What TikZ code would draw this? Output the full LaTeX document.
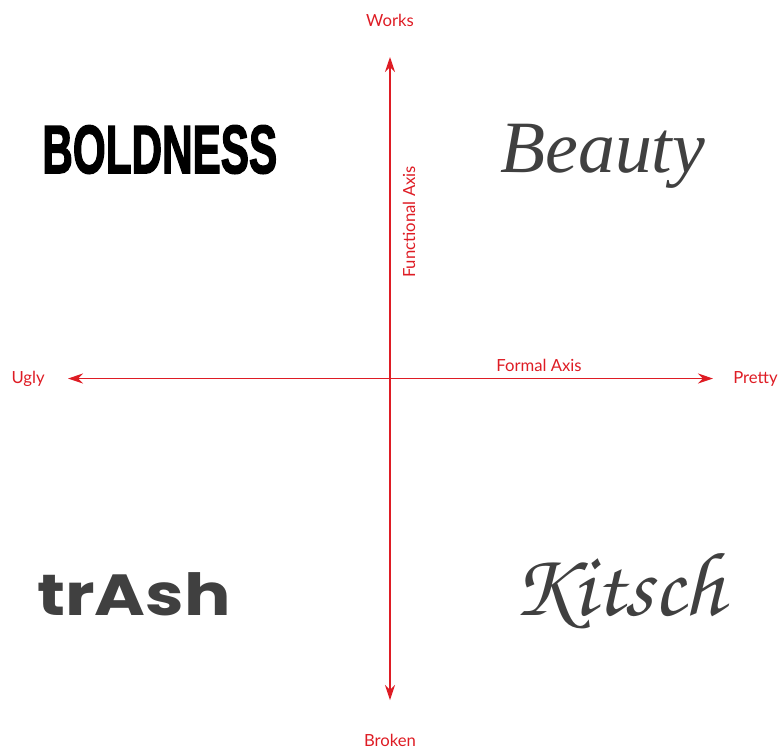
\documentclass[tikz,border=0pt]{standalone}
\usepackage{fontspec}
\setmainfont{Lato}
\newfontfamily\heavyfont[FakeBold=2.5]{Liberation Sans Bold}
\newfontfamily\beautyfont{Liberation Serif Italic}
\newfontfamily\kitschfont{texgyrechorus-mediumitalic.otf}
\newfontfamily\trashfont{Poppins}
\usetikzlibrary{arrows.meta}
\definecolor{axisred}{RGB}{222,28,36}
\definecolor{wordgray}{RGB}{64,64,64}

\begin{document}
\begin{tikzpicture}[x=0.02cm, y=-0.02cm,
	lbl/.style={font=\fontsize{9.5}{11}\selectfont, text=axisred, inner sep=0pt},
	word/.style={anchor=base west, inner sep=0pt, text=wordgray},
	axisline/.style={draw=axisred, line width=0.7pt, {Stealth[length=3mm, width=2mm]}-{Stealth[length=3mm, width=2mm]}}]
	\useasboundingbox (0,0) rectangle (779,752);
	\node[lbl, anchor=south] (works) at (390,27) {Works};
	\node[lbl, anchor=north] (broken) at (390,734) {Broken};
	\node[lbl, anchor=east] (ugly) at (45,378.5) {Ugly};
	\node[lbl, anchor=west] (pretty) at (733,378.5) {Pretty};
	\draw[axisline, shorten <=0.6cm, shorten >=0.68cm] (works) -- (broken);
	\draw[axisline, shorten <=0.46cm, shorten >=0.4cm] (ugly) -- (pretty);
	\node[lbl, rotate=90] (funcaxis) at (409,222) {Functional Axis};
	\node[lbl] (formaxis) at (539,365) {Formal Axis};
	\node[word, text=black, font=\heavyfont\fontsize{38.8}{40}\selectfont] (boldness) at (42,173) {\scalebox{0.62}[1]{BOLDNESS}};
	\node[word, font=\beautyfont\fontsize{42}{46}\selectfont] (beauty) at (500,172) {Beauty};
	\node[word, font=\kitschfont\fontsize{52}{56}\selectfont] (kitsch) at (512,615) {Kitsch};
	\node[word, font=\trashfont\bfseries\fontsize{33}{36}\selectfont] (trash) at (37,615) {\scalebox{1.19}[1]{trAsh}};
\end{tikzpicture}
\end{document}
